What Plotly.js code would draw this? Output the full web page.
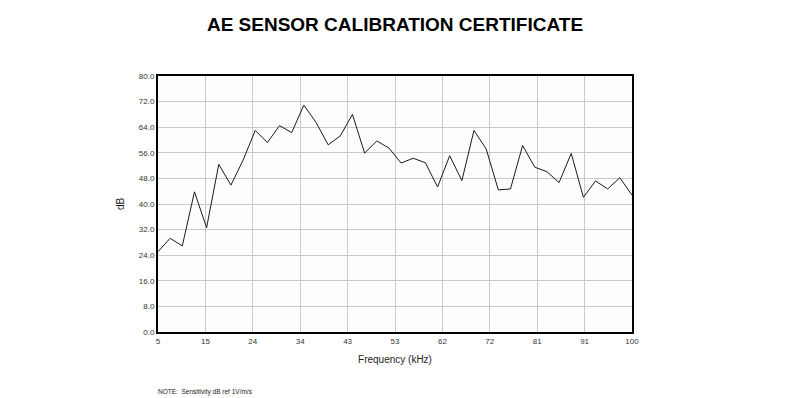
<!DOCTYPE html>
<html>
<head>
<meta charset="utf-8">
<script src="https://cdn.plot.ly/plotly-3.0.1.min.js"></script>
<style>
  html, body { margin: 0; padding: 0; background: #ffffff; }
  #chart { width: 790px; height: 398px; }
</style>
</head>
<body>
<div id="chart"></div>
<script>
const frequencyKHz = [5, 7.44, 9.87, 12.31, 14.74, 17.18, 19.62, 22.05, 24.49, 26.92,
  29.36, 31.79, 34.23, 36.67, 39.10, 41.54, 43.97, 46.41, 48.85, 51.28,
  53.72, 56.15, 58.59, 61.03, 63.46, 65.90, 68.33, 70.77, 73.21, 75.64,
  78.08, 80.51, 82.95, 85.38, 87.82, 90.26, 92.69, 95.13, 97.56, 100];
const sensitivityDB = [25.1, 29.3, 26.9, 43.8, 32.6, 52.4, 45.9, 53.7, 63.0, 59.2,
  64.5, 62.3, 70.9, 65.5, 58.5, 61.3, 68.0, 55.9, 59.7, 57.5,
  52.8, 54.3, 52.9, 45.3, 55.1, 47.3, 63.0, 57.2, 44.4, 44.7,
  58.3, 51.5, 50.1, 46.7, 55.8, 42.1, 47.2, 44.7, 48.2, 42.8];
const xTickVals = [5, 14.5, 24, 33.5, 43, 52.5, 62, 71.5, 81, 90.5, 100];
const xTickText = ["5", "15", "24", "34", "43", "53", "62", "72", "81", "91", "100"];
const yTickVals = [0, 8, 16, 24, 32, 40, 48, 56, 64, 72, 80];
const yTickText = yTickVals.map(v => v.toFixed(1));

const trace = {
  x: frequencyKHz,
  y: sensitivityDB,
  type: 'scatter',
  mode: 'lines',
  line: { color: '#1a1a1a', width: 1 },
  hoverinfo: 'x+y'
};

const layout = {
  width: 790,
  height: 398,
  margin: { l: 158, r: 158, t: 76, b: 66 },
  paper_bgcolor: '#ffffff',
  plot_bgcolor: '#fdfdfd',
  font: { family: 'Liberation Sans, Arial, sans-serif', color: '#333333', size: 8 },
  title: {
    text: '<b>AE SENSOR CALIBRATION CERTIFICATE</b>',
    font: { family: 'Liberation Sans, Arial, sans-serif', size: 19, color: '#000000' },
    x: 0.5, xanchor: 'center', y: 0.94, yanchor: 'middle', xref: 'paper'
  },
  showlegend: false,
  xaxis: {
    range: [5, 100],
    tickmode: 'array',
    tickvals: xTickVals,
    ticktext: xTickText,
    showgrid: true,
    gridcolor: '#c8c8c8',
    gridwidth: 1,
    showline: true,
    linecolor: '#000000',
    linewidth: 2,
    mirror: true,
    zeroline: false,
    ticks: '',
    tickfont: { size: 8, color: '#333333' },
    title: { text: 'Frequency (kHz)', font: { size: 10, color: '#222222' }, standoff: 11 }
  },
  yaxis: {
    range: [0, 80],
    tickmode: 'array',
    tickvals: yTickVals,
    ticktext: yTickText,
    showgrid: true,
    gridcolor: '#c8c8c8',
    gridwidth: 1,
    showline: true,
    linecolor: '#000000',
    linewidth: 2,
    mirror: true,
    zeroline: false,
    ticks: '',
    tickfont: { size: 8, color: '#333333' },
    title: { text: 'dB', font: { size: 10, color: '#222222' }, standoff: 12 }
  },
  annotations: [{
    text: 'NOTE:  Sensitivity dB ref 1V/m/s',
    xref: 'paper', yref: 'paper',
    x: -0.004, y: -0.235,
    xanchor: 'left', yanchor: 'middle',
    showarrow: false,
    font: { size: 6.5, color: '#222222' }
  }]
};

Plotly.newPlot('chart', [trace], layout, { displayModeBar: false, staticPlot: true });
</script>
</body>
</html>
